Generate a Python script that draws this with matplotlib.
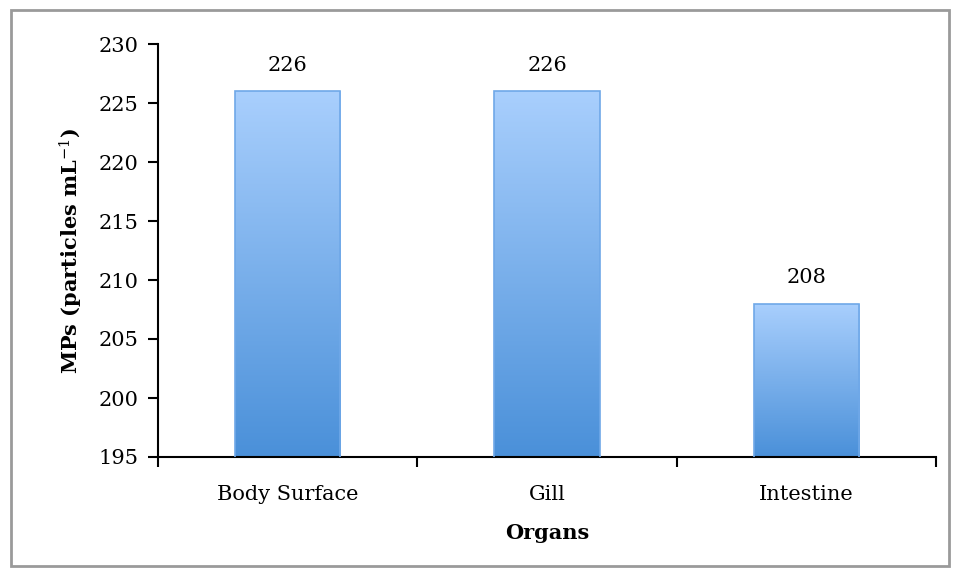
import numpy as np
import matplotlib
matplotlib.use("Agg")
import matplotlib.pyplot as plt
from matplotlib.colors import LinearSegmentedColormap
from matplotlib.patches import Rectangle

organs = ["Body Surface", "Gill", "Intestine"]
mps = [226, 226, 208]

plt.rcParams["font.family"] = ["DejaVu Serif"]
plt.rcParams["mathtext.fontset"] = "dejavuserif"

fig = plt.figure(figsize=(9.57, 5.73), dpi=100)
ax = fig.add_axes([158 / 957, 1 - 457 / 573, (936 - 158) / 957, (457 - 44) / 573])

# gray frame around the whole chart
fig.patches.append(Rectangle((11 / 957, 1 - 566 / 573), 938 / 957, 556 / 573,
                             transform=fig.transFigure, fill=False,
                             edgecolor="#9a9a9a", linewidth=2))

x = np.arange(len(organs))
bars = ax.bar(x, mps, width=0.405, bottom=0, facecolor="none",
              edgecolor="#6fa8e8", linewidth=1.2, zorder=3)

ymin, ymax = 195, 230
grad = LinearSegmentedColormap.from_list("bluegrad", ["#4a90d9", "#a9cffd"])
g = np.linspace(0, 1, 256).reshape(-1, 1)
for b in bars:
    x0, w, h = b.get_x(), b.get_width(), b.get_height()
    im = ax.imshow(g, cmap=grad, origin="lower", aspect="auto",
                   extent=[x0, x0 + w, ymin, h], zorder=2)
    im.set_clip_path(b)
    ax.annotate(f"{h:g}", (x0 + w / 2, h), xytext=(0, 12),
                textcoords="offset points", ha="center", va="bottom",
                fontsize=15)

ax.set_xlim(-0.5, len(organs) - 0.5)
ax.set_ylim(ymin, ymax)
ax.set_yticks(np.arange(195, 231, 5))
ax.set_xticks(x)
ax.set_xticklabels(organs)
ax.set_xticks(np.arange(-0.5, len(organs), 1), minor=True)
ax.tick_params(axis="x", which="major", length=0, pad=20, labelsize=15)
ax.tick_params(axis="x", which="minor", length=7, width=1.5, direction="out")
ax.tick_params(axis="y", length=7, width=1.5, direction="out", labelsize=15, pad=7)

for s in ["top", "right"]:
    ax.spines[s].set_visible(False)
for s in ["left", "bottom"]:
    ax.spines[s].set_linewidth(1.5)

ax.set_xlabel("Organs", fontsize=15, fontweight="bold", labelpad=14)
ax.set_ylabel("MPs (particles mL$^{-1}$)", fontsize=15, fontweight="bold", labelpad=10)

fig.savefig("out.png", dpi=100)
